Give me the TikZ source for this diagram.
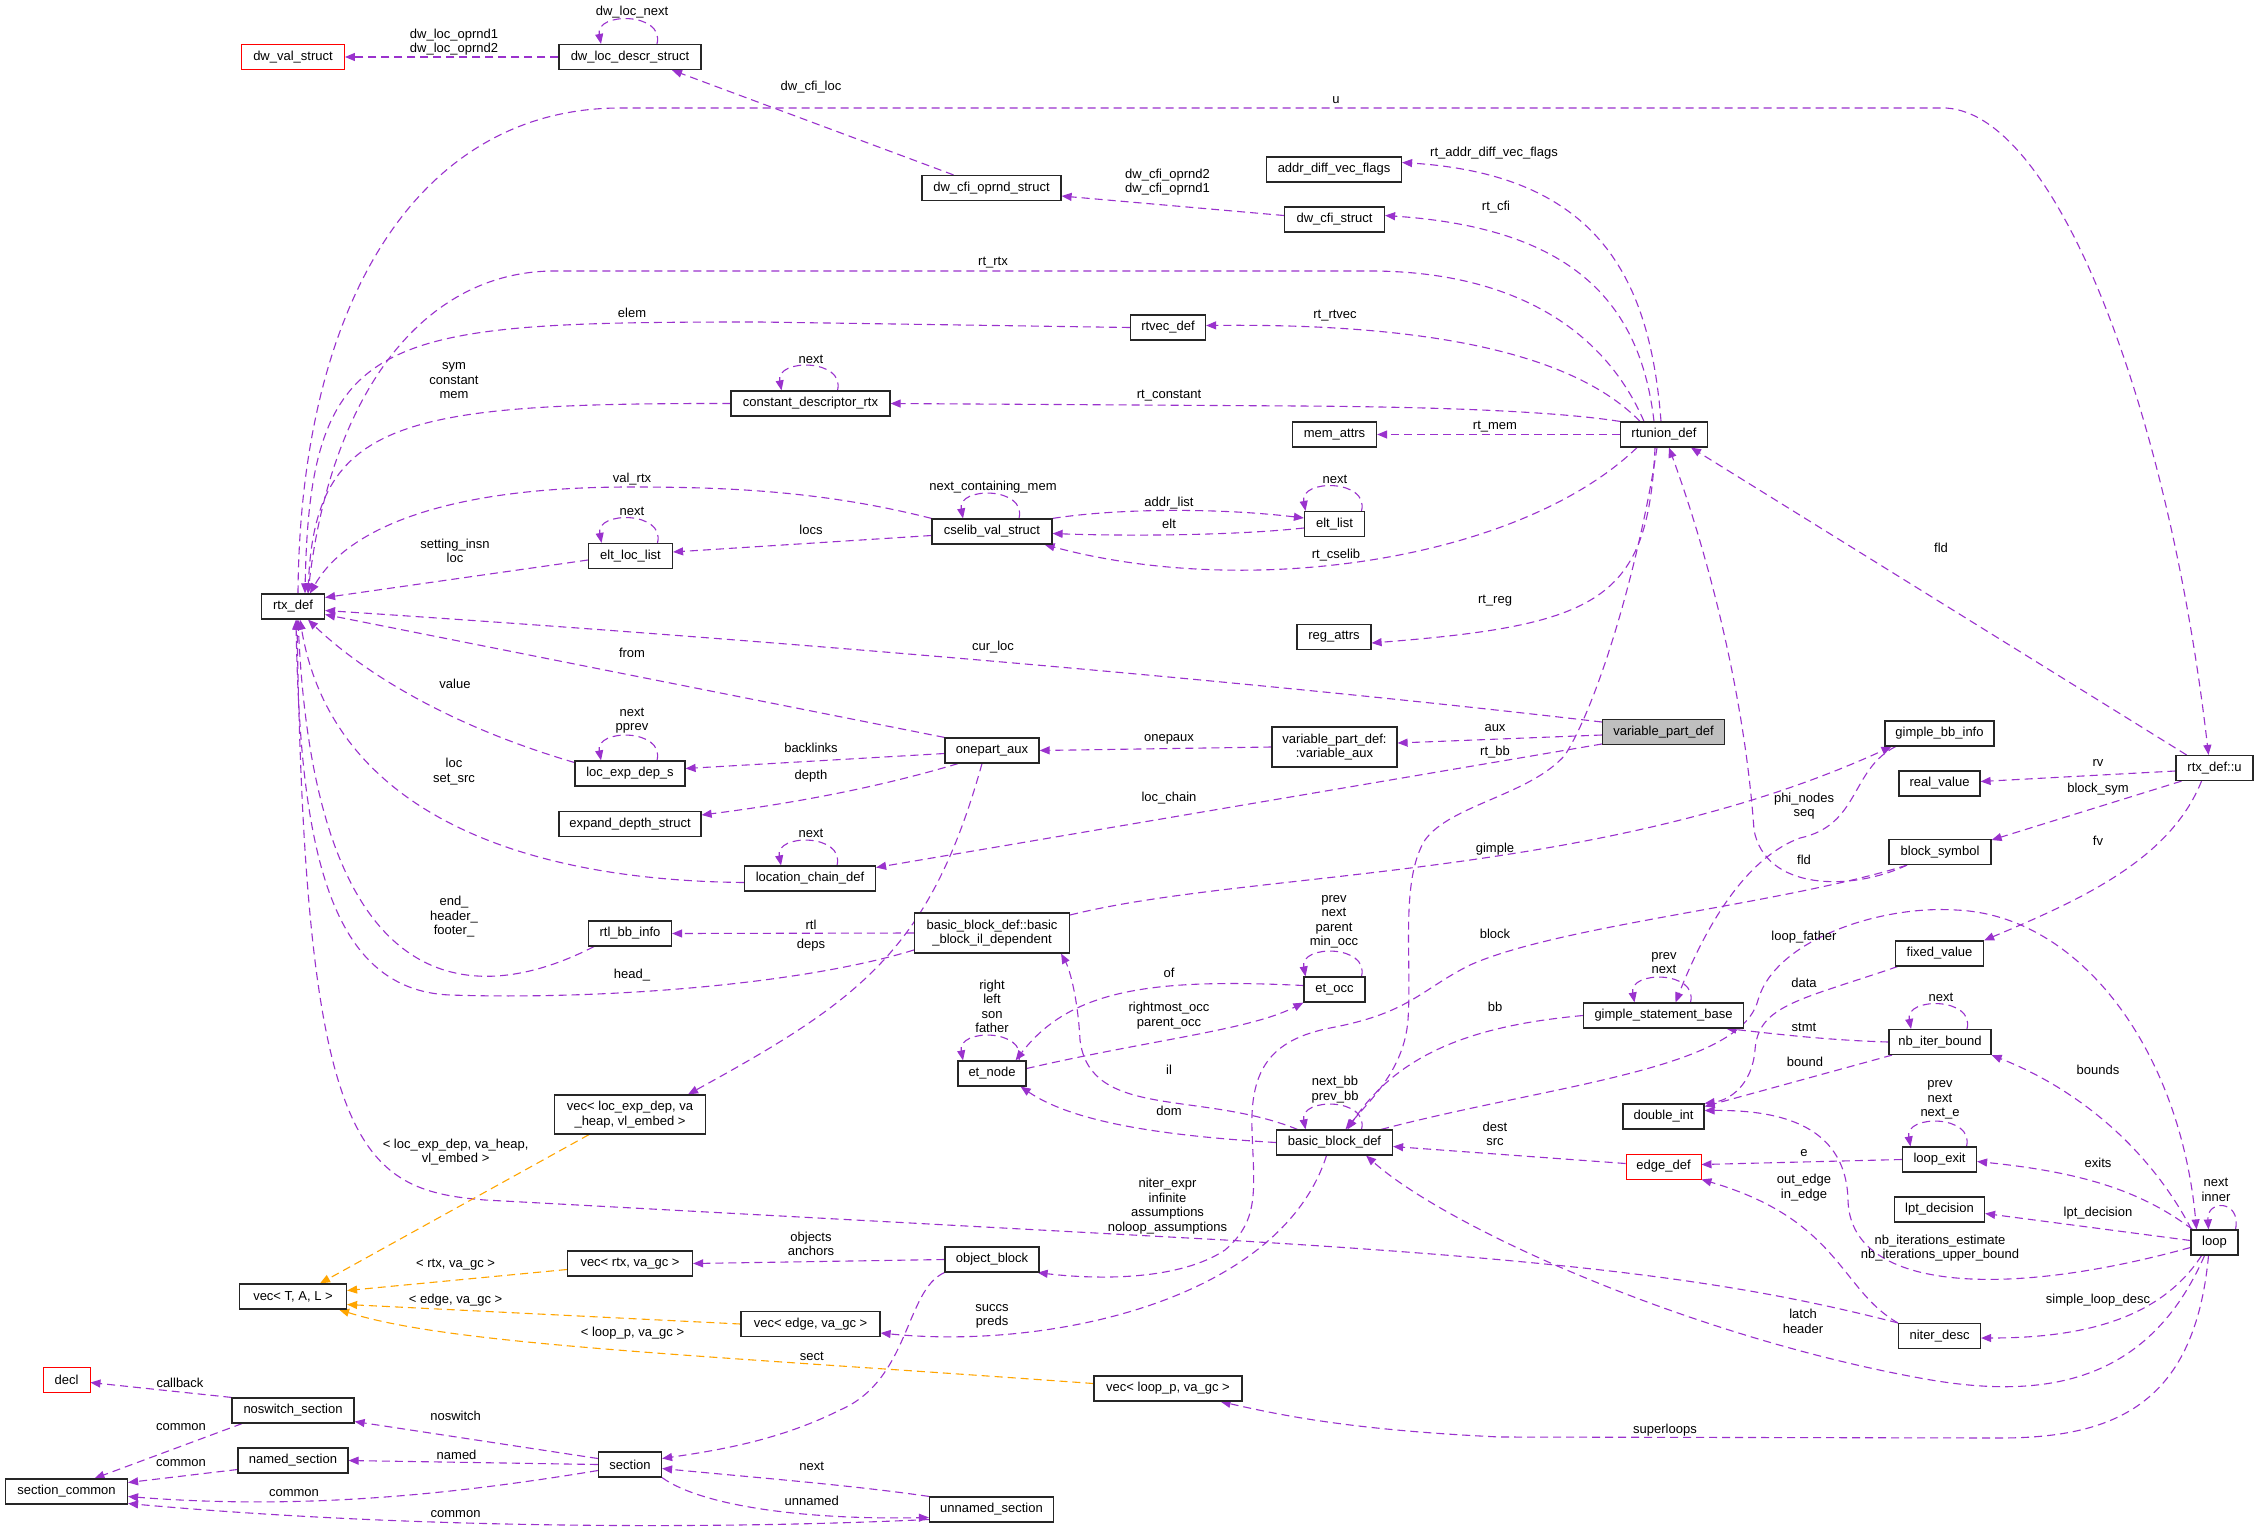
\documentclass[tikz,border=0pt]{standalone}
\usepackage{fontspec}
\setmainfont{Liberation Sans}
\usetikzlibrary{arrows.meta}
\pgfdeclarelayer{bg}
\pgfsetlayers{bg,main}
\definecolor{edgep}{HTML}{9A32CD}
\definecolor{edgeo}{HTML}{FFA500}
\tikzset{
  box/.style={draw=black!85, line width=1.2pt, fill=white, minimum height=25pt, inner xsep=2pt, inner ysep=0pt,
    font=\fontsize{13}{14.5}\selectfont, align=center},
  rbox/.style={box, draw=red, line width=0.9pt},
  lab/.style={font=\fontsize{13}{14.5}\selectfont, align=center, inner sep=0pt},
  pe/.style={draw=edgep, line width=1.1pt, dash pattern=on 8pt off 5pt, -{Triangle[length=10pt,width=8pt]}},
  po/.style={pe, draw=edgeo}
}
\newcommand{\selfloop}[1]{\draw[pe] ([xshift=27pt]#1.north) .. controls +(8,-32) and +(-6,-32) .. ([xshift=-29pt]#1.north);}
\begin{document}
\begin{tikzpicture}[x=1pt,y=-1pt]
\useasboundingbox (0,0) rectangle (2259,1539);
% ---------------- nodes
\node[rbox,minimum width=103] (dwval) at (293,57) {dw\_val\_struct};
\node[box,minimum width=142] (dwloc) at (630,57) {dw\_loc\_descr\_struct};
\node[box,minimum width=139] (dwcfiop) at (991.5,188) {dw\_cfi\_oprnd\_struct};
\node[box,minimum width=135] (addrdiff) at (1334,169.5) {addr\_diff\_vec\_flags};
\node[box,minimum width=100] (dwcfi) at (1334.5,219.5) {dw\_cfi\_struct};
\node[box,minimum width=75] (rtvec) at (1168,327.5) {rtvec\_def};
\node[box,minimum width=159] (cdr) at (810.5,403.5) {constant\_descriptor\_rtx};
\node[box,minimum width=84] (memattrs) at (1334.5,434.5) {mem\_attrs};
\node[box,minimum width=87] (rtunion) at (1664,434.5) {rtunion\_def};
\node[box,minimum width=60] (eltlist) at (1334.5,524) {elt\_list};
\node[box,minimum width=120] (cselib) at (992,531.5) {cselib\_val\_struct};
\node[box,minimum width=63] (rtx) at (293,606.5) {rtx\_def};
\node[box,minimum width=84] (eltloc) at (630.5,556) {elt\_loc\_list};
\node[box,minimum width=74] (regattrs) at (1334,637) {reg\_attrs};
\node[box,minimum width=110] (locexp) at (630,773.5) {loc\_exp\_dep\_s};
\node[box,minimum width=142] (expand) at (630,824) {expand\_depth\_struct};
\node[box,minimum width=94] (onepart) at (992,750.5) {onepart\_aux};
\node[box,minimum width=125,minimum height=40] (varaux) at (1334.5,747) {variable\_part\_def:\\:variable\_aux};
\node[box,minimum width=122,fill=gray!50] (varpart) at (1663.5,732) {variable\_part\_def};
\node[box,minimum width=109] (gbbinfo) at (1939.5,733.5) {gimple\_bb\_info};
\node[box,minimum width=81] (realval) at (1939.5,783.5) {real\_value};
\node[box,minimum width=77] (rtxu) at (2214.5,768) {rtx\_def::u};
\node[box,minimum width=131] (lcd) at (810,878.5) {location\_chain\_def};
\node[box,minimum width=102] (blocksym) at (1940,852) {block\_symbol};
\node[box,minimum width=83] (rtlbb) at (630,933.5) {rtl\_bb\_info};
\node[box,minimum width=155,minimum height=40] (bbil) at (992,933) {basic\_block\_def::basic\\\_block\_il\_dependent};
\node[box,minimum width=88] (fixedval) at (1939.5,953.5) {fixed\_value};
\node[box,minimum width=61] (etocc) at (1334.5,989.5) {et\_occ};
\node[box,minimum width=160] (gsb) at (1663.5,1015.5) {gimple\_statement\_base};
\node[box,minimum width=102] (nbiter) at (1940,1042) {nb\_iter\_bound};
\node[box,minimum width=68] (etnode) at (992,1073.5) {et\_node};
\node[box,minimum width=151,minimum height=39] (vecled) at (630,1114.5) {vec< loc\_exp\_dep, va\\\_heap, vl\_embed >};
\node[box,minimum width=81] (dblint) at (1663.5,1116.5) {double\_int};
\node[box,minimum width=116] (bbdef) at (1334.5,1142.5) {basic\_block\_def};
\node[rbox,minimum width=75] (edgedef) at (1663.5,1166.5) {edge\_def};
\node[box,minimum width=74] (loopexit) at (1939.5,1159.5) {loop\_exit};
\node[box,minimum width=90] (lpt) at (1939.5,1209.5) {lpt\_decision};
\node[box,minimum width=47] (lp) at (2214.5,1242.5) {loop};
\node[box,minimum width=94] (objblock) at (992,1259.5) {object\_block};
\node[box,minimum width=125] (vecrtx) at (630,1263.5) {vec< rtx, va\_gc >};
\node[box,minimum width=107] (vectal) at (293,1296.5) {vec< T, A, L >};
\node[box,minimum width=139] (vecedge) at (810.5,1324) {vec< edge, va\_gc >};
\node[box,minimum width=82] (niter) at (1939.5,1336) {niter\_desc};
\node[rbox,minimum width=47] (decl) at (66.5,1379.5) {decl};
\node[box,minimum width=148] (veclp) at (1168,1388.5) {vec< loop\_p, va\_gc >};
\node[box,minimum width=122] (noswitch) at (293,1410.5) {noswitch\_section};
\node[box,minimum width=110] (named) at (293,1460.5) {named\_section};
\node[box,minimum width=63] (sec) at (630,1464.5) {section};
\node[box,minimum width=122] (seccommon) at (66.5,1491.5) {section\_common};
\node[box,minimum width=124] (unnamed) at (991.5,1509.5) {unnamed\_section};
% ---------------- edges
\begin{pgfonlayer}{bg}
\fill[white] (0,0) rectangle (2259,1539);
\draw[pe] (dwloc.west) -- (dwval.east);
\selfloop{dwloc}
\draw[pe] ([xshift=-38pt]dwcfiop.north) -- ([xshift=42pt]dwloc.south);
\draw[pe] ([xshift=5pt]rtx.north) .. controls (300,300) and (420,108) .. (620,108) -- (1946,108) .. controls (2060,115) and (2170,420) .. ([xshift=-6pt]rtxu.north);
\draw[pe] ([yshift=4pt]dwcfi.west) -- ([yshift=-8pt]dwcfiop.east);
\draw[pe] ([xshift=-3pt]rtunion.north) .. controls (1650,280) and (1600,175) .. ([yshift=7pt]addrdiff.east);
\draw[pe] ([xshift=-10pt]rtunion.north) .. controls (1640,300) and (1570,228) .. ([yshift=4pt]dwcfi.east);
\draw[pe] ([xshift=-20pt]rtunion.north) .. controls (1600,320) and (1500,271) .. (1370,271) -- (560,271) .. controls (420,268) and (330,400) .. ([xshift=15pt]rtx.north);
\draw[pe] (rtvec.west) -- (760,322) .. controls (380,322) and (310,330) .. ([xshift=12pt]rtx.north);
\draw[pe] ([xshift=-24pt]rtunion.north) .. controls (1580,360) and (1450,323) .. ([yshift=2pt]rtvec.east);
\draw[pe] (cdr.west) .. controls (400,403) and (315,420) .. ([xshift=15pt]rtx.north);
\selfloop{cdr}
\draw[pe] (rtunion.north west) .. controls (1560,412) and (1450,407) .. (1300,406) -- (cdr.east);
\draw[pe] (rtunion.west) -- (memattrs.east);
\draw[pe] (cselib.north west) .. controls (820,490) and (720,487) .. (630,487) .. controls (420,487) and (340,540) .. ([xshift=17pt]rtx.north);
\selfloop{cselib}
\selfloop{eltlist}
\draw[pe] (cselib.north east) .. controls (1120,508) and (1220,508) .. ([yshift=6pt]eltlist.west);
\draw[pe] ([yshift=-4pt]eltlist.west) .. controls (1230,536) and (1120,536) .. ([yshift=-2pt]cselib.east);
\draw[pe] ([yshift=-4pt]eltloc.west) -- ([yshift=9pt]rtx.east);
\selfloop{eltloc}
\draw[pe] ([yshift=-4pt]cselib.west) -- ([yshift=4pt]eltloc.east);
\draw[pe] ([xshift=-27pt]rtunion.south) .. controls (1520,560) and (1250,600) .. ([xshift=-8pt]cselib.south east);
\draw[pe] ([xshift=-9pt]rtunion.south) .. controls (1648,600) and (1600,625) .. ([yshift=-6pt]regattrs.east);
\draw[pe] ([yshift=10pt]varpart.west) .. controls (1200,675) and (700,635) .. ([yshift=-4pt]rtx.east);
\draw[pe] (onepart.north west) -- ([yshift=-8pt]rtx.east);
\draw[pe] ([yshift=11pt]locexp.west) .. controls (430,720) and (350,660) .. ([xshift=15pt]rtx.south);
\selfloop{locexp}
\draw[pe] ([yshift=-3pt]onepart.west) -- ([yshift=5pt]locexp.east);
\draw[pe] ([xshift=-34pt]onepart.south) .. controls (870,790) and (780,805) .. ([yshift=9pt]expand.east);
\draw[pe] (varaux.west) -- (onepart.east);
\draw[pe] ([yshift=-3pt]varpart.west) -- ([yshift=4pt]varaux.east);
\draw[pe] ([yshift=-12pt]varpart.west) -- ([yshift=11pt]lcd.east);
\draw[pe] ([xshift=-7pt]rtunion.south) .. controls (1640,560) and (1600,700) .. (1565,755) .. controls (1530,795) and (1450,805) .. (1425,840) .. controls (1400,880) and (1412,960) .. (1408,1020) .. controls (1404,1070) and (1370,1100) .. ([xshift=11pt]bbdef.north);
\draw[pe] ([yshift=-4pt]lcd.west) .. controls (500,880) and (330,800) .. ([xshift=7pt]rtx.south);
\selfloop{lcd}
\draw[pe] ([xshift=-10pt]onepart.south) .. controls (930,950) and (860,1000) .. ([xshift=58pt]vecled.north);
\draw[pe] (bbil.west) -- (rtlbb.east);
\draw[pe] ([xshift=-36pt]rtlbb.south) .. controls (470,1010) and (315,1000) .. ([xshift=5pt]rtx.south);
\draw[pe] ([yshift=-17pt]bbil.west) .. controls (800,985) and (600,1000) .. (450,995) .. controls (330,990) and (300,850) .. ([xshift=3pt]rtx.south);
\draw[pe] ([yshift=18pt]bbil.east) .. controls (1250,870) and (1600,880) .. ([xshift=-48pt]gbbinfo.south);
\draw[pe] ([xshift=-44pt]gbbinfo.south) .. controls (1850,770) and (1860,825) .. (1800,838) .. controls (1740,860) and (1700,940) .. ([xshift=12pt]gsb.north);
\selfloop{gsb}
\draw[pe] (gsb.west) .. controls (1480,1025) and (1400,1050) .. ([xshift=13pt]bbdef.north);
\draw[pe] ([xshift=-33pt]blocksym.south) .. controls (1780,905) and (1560,925) .. (1470,965) .. controls (1420,990) and (1410,1013) .. (1330,1028) .. controls (1270,1040) and (1250,1070) .. (1252,1130) .. controls (1254,1190) and (1260,1220) .. (1225,1250) .. controls (1180,1280) and (1100,1280) .. ([xshift=-2pt]objblock.south east);
\draw[pe] ([xshift=-33pt]blocksym.south) .. controls (1850,892) and (1765,890) .. (1754,830) .. controls (1745,700) and (1710,560) .. ([xshift=5pt]rtunion.south);
\draw[pe] ([xshift=-28pt]rtxu.north) -- ([xshift=27pt]rtunion.south);
\draw[pe] ([yshift=-3pt]rtxu.west) -- ([yshift=2pt]realval.east);
\draw[pe] ([xshift=-33pt]rtxu.south) -- ([yshift=12pt]blocksym.east);
\draw[pe] ([xshift=-13pt]rtxu.south) .. controls (2170,860) and (2080,900) .. (fixedval.north east);
\draw[pe] ([xshift=-12pt]bbdef.north east) .. controls (1550,1085) and (1740,1070) .. (1758,1000) .. controls (1775,940) and (1880,905) .. (1956,910) .. controls (2080,915) and (2180,1050) .. ([xshift=-18pt]lp.north);
\draw[pe] ([xshift=-42pt]fixedval.south) .. controls (1800,1000) and (1758,1005) .. (1755,1050) .. controls (1752,1085) and (1730,1100) .. (dblint.north east);
\draw[pe] (nbiter.west) .. controls (1820,1040) and (1760,1032) .. ([xshift=-18pt]gsb.south east);
\draw[pe] ([xshift=-48pt]nbiter.south) -- ([yshift=10pt]dblint.east);
\selfloop{nbiter}
\draw[pe] ([xshift=-23pt]lp.north) .. controls (2150,1150) and (2080,1090) .. (nbiter.south east);
\draw[pe] ([xshift=-22pt]lp.north) .. controls (2140,1190) and (2080,1172) .. ([yshift=-2pt]loopexit.east);
\draw[pe] ([xshift=21pt]lp.north) .. controls +(6,-30) and +(-2,-30) .. ([xshift=-6pt]lp.north);
\draw[pe] ([yshift=2pt]lp.west) -- ([yshift=-4pt]lpt.east);
\draw[pe] ([yshift=-5pt]lp.west) .. controls (2000,1300) and (1850,1290) .. (1848,1200) .. controls (1846,1120) and (1770,1110) .. ([yshift=6pt]dblint.east);
\draw[pe] (loopexit.west) -- ([yshift=2pt]edgedef.east);
\selfloop{loopexit}
\draw[pe] (niter.north west) .. controls (1840,1290) and (1840,1220) .. (edgedef.south east);
\draw[pe] ([xshift=-13pt]lp.south) .. controls (2160,1320) and (2080,1338) .. ([yshift=-2pt]niter.east);
\draw[pe] ([xshift=-10pt]lp.south) .. controls (2150,1380) and (2050,1400) .. (1931,1380) .. controls (1700,1340) and (1450,1230) .. ([xshift=-27pt]bbdef.south east);
\draw[pe] ([xshift=-6pt]lp.south) .. controls (2195,1400) and (2120,1438) .. (2000,1438) -- (1500,1437) .. controls (1350,1430) and (1280,1415) .. ([xshift=-22pt]veclp.south east);
\draw[pe] (niter.north west) .. controls (1750,1285) and (1600,1262) .. (1225,1240) -- (485,1200) .. controls (360,1190) and (305,1150) .. ([xshift=4pt]rtx.south);
\draw[pe] (bbdef.west) .. controls (1150,1135) and (1070,1120) .. ([xshift=-6pt]etnode.south east);
\draw[pe] ([xshift=-37pt]bbdef.north) .. controls (1200,1090) and (1090,1120) .. (1080,1040) .. controls (1078,1000) and (1070,970) .. ([xshift=-9pt]bbil.south east);
\selfloop{bbdef}
\draw[pe] ([yshift=4pt]etocc.west) .. controls (1150,978) and (1070,990) .. ([xshift=-11pt]etnode.north east);
\draw[pe] ([yshift=5pt]etnode.east) .. controls (1150,1040) and (1250,1030) .. (etocc.south west);
\selfloop{etocc}
\selfloop{etnode}
\draw[pe] (objblock.west) -- (vecrtx.east);
\draw[pe] (objblock.south west) .. controls (905,1290) and (910,1380) .. (840,1410) .. controls (780,1440) and (720,1450) .. ([yshift=6pt]sec.east);
\draw[pe] ([xshift=-8pt]bbdef.south) .. controls (1280,1300) and (1050,1350) .. ([yshift=-9pt]vecedge.east);
\draw[po] (vecedge.west) -- ([yshift=-8pt]vectal.east);
\draw[po] ([yshift=-6pt]vecrtx.west) -- ([yshift=6pt]vectal.east);
\draw[po] ([xshift=-41pt]vecled.south) -- ([xshift=27pt]vectal.north);
\draw[po] ([yshift=5pt]veclp.west) .. controls (700,1355) and (450,1345) .. ([xshift=-8pt]vectal.south east);
\draw[pe] ([yshift=6pt]sec.west) -- ([yshift=-11pt]noswitch.east);
\draw[pe] (sec.west) -- (named.east);
\draw[pe] ([yshift=-6pt]sec.west) .. controls (450,1495) and (300,1510) .. ([yshift=-5pt]seccommon.east);
\draw[pe] (noswitch.north west) -- ([yshift=-3pt]decl.east);
\draw[pe] ([xshift=-51pt]noswitch.south) -- ([xshift=28pt]seccommon.north);
\draw[pe] ([yshift=-9pt]named.west) -- ([yshift=9pt]seccommon.east);
\draw[pe] ([yshift=-10pt]unnamed.west) .. controls (700,1530) and (400,1528) .. ([yshift=-12pt]seccommon.east);
\draw[pe] (unnamed.north west) .. controls (850,1485) and (760,1478) .. ([yshift=-4pt]sec.east);
\draw[pe] (sec.south east) .. controls (700,1505) and (800,1520) .. ([yshift=-8pt]unnamed.west);
\draw[pe] ([yshift=3pt]edgedef.west) -- ([yshift=-4pt]bbdef.east);
\end{pgfonlayer}
% ---------------- labels
\node[lab] (l1) at (454,42) {dw\_loc\_oprnd1\\dw\_loc\_oprnd2};
\node[lab] (l2) at (632,12) {dw\_loc\_next};
\node[lab] (l3) at (811,87) {dw\_cfi\_loc};
\node[lab] (l4) at (1336,100) {u};
\node[lab] (l5) at (1167.5,182) {dw\_cfi\_oprnd2\\dw\_cfi\_oprnd1};
\node[lab] (l6) at (1494,153) {rt\_addr\_diff\_vec\_flags};
\node[lab] (l7) at (1496,207) {rt\_cfi};
\node[lab] (l8) at (993,263) {rt\_rtx};
\node[lab] (l9) at (632,313) {elem};
\node[lab] (l10) at (1335,316) {rt\_rtvec};
\node[lab] (l11) at (454,381) {sym\\constant\\mem};
\node[lab] (l12) at (811,359) {next};
\node[lab] (l13) at (1169,396) {rt\_constant};
\node[lab] (l14) at (1495,427) {rt\_mem};
\node[lab] (l15) at (632,479) {val\_rtx};
\node[lab] (l16) at (993,487) {next\_containing\_mem};
\node[lab] (l17) at (1335,479) {next};
\node[lab] (l18) at (1169,503) {addr\_list};
\node[lab] (l19) at (1169,524) {elt};
\node[lab] (l20) at (632,511) {next};
\node[lab] (l21) at (455,551) {setting\_insn\\loc};
\node[lab] (l22) at (811,530) {locs};
\node[lab] (l23) at (1336,555) {rt\_cselib};
\node[lab] (l24) at (1495,601) {rt\_reg};
\node[lab] (l25) at (993,647) {cur\_loc};
\node[lab] (l26) at (632,653) {from};
\node[lab] (l27) at (455,684) {value};
\node[lab] (l28) at (632,720.5) {next\\pprev};
\node[lab] (l29) at (811,748) {backlinks};
\node[lab] (l30) at (811,776) {depth};
\node[lab] (l31) at (1169,739) {onepaux};
\node[lab] (l32) at (1495,728) {aux};
\node[lab] (l33) at (1495,752) {rt\_bb};
\node[lab] (l34) at (1169,798) {loc\_chain};
\node[lab] (l35) at (454,771.5) {loc\\set\_src};
\node[lab] (l36) at (811,833) {next};
\node[lab] (l37) at (1495,849) {gimple};
\node[lab] (l38) at (811,925) {rtl};
\node[lab] (l39) at (811,945) {deps};
\node[lab] (l40) at (454,917) {end\_\\header\_\\footer\_};
\node[lab] (l41) at (632,975) {head\_};
\node[lab] (l42) at (1334,922) {prev\\next\\parent\\min\_occ};
\node[lab] (l43) at (1495,934) {block};
\node[lab] (l44) at (1169,973) {of};
\node[lab] (l45) at (992,1006.5) {right\\left\\son\\father};
\node[lab] (l46) at (1169,1015.5) {rightmost\_occ\\parent\_occ};
\node[lab] (l47) at (1495,1007) {bb};
\node[lab] (l48) at (1941,548) {fld};
\node[lab] (l49) at (1804,806) {phi\_nodes\\seq};
\node[lab] (l50) at (2098,763) {rv};
\node[lab] (l51) at (2098,789) {block\_sym};
\node[lab] (l52) at (2098,841) {fv};
\node[lab] (l53) at (1804,860) {fld};
\node[lab] (l54) at (1804,937) {loop\_father};
\node[lab] (l55) at (1664,963) {prev\\next};
\node[lab] (l56) at (1804,983) {data};
\node[lab] (l57) at (1941,997) {next};
\node[lab] (l58) at (1804,1027) {stmt};
\node[lab] (l59) at (1805,1062) {bound};
\node[lab] (l60) at (2098,1070) {bounds};
\node[lab] (l61) at (1940,1100) {prev\\next\\next\_e};
\node[lab] (l62) at (1804,1153) {e};
\node[lab] (l63) at (1804,1187.5) {out\_edge\\in\_edge};
\node[lab] (l64) at (2098,1163) {exits};
\node[lab] (l65) at (2216,1190) {next\\inner};
\node[lab] (l66) at (2098,1213) {lpt\_decision};
\node[lab] (l67) at (1940,1248) {nb\_iterations\_estimate\\nb\_iterations\_upper\_bound};
\node[lab] (l68) at (2098,1300) {simple\_loop\_desc};
\node[lab] (l69) at (1803,1321.5) {latch\\header};
\node[lab] (l70) at (1665,1430) {superloops};
\node[lab] (l71) at (1495,1134) {dest\\src};
\node[lab] (l72) at (1169,1070) {il};
\node[lab] (l73) at (1335,1089.5) {next\_bb\\prev\_bb};
\node[lab] (l74) at (1169,1111) {dom};
\node[lab] (l75) at (1167.5,1206) {niter\_expr\\infinite\\assumptions\\noloop\_assumptions};
\node[lab] (l76) at (811,1244) {objects\\anchors};
\node[lab] (l77) at (992,1316.5) {succs\\preds};
\node[lab] (l78) at (811.7,1356) {sect};
\node[lab] (l79) at (811.7,1466) {next};
\node[lab] (l80) at (811.7,1501) {unnamed};
\node[lab] (l81) at (455.6,1152) {< loc\_exp\_dep, va\_heap,\\vl\_embed >};
\node[lab] (l82) at (455.6,1265) {< rtx, va\_gc >};
\node[lab] (l83) at (455.6,1300) {< edge, va\_gc >};
\node[lab] (l84) at (632.5,1333) {< loop\_p, va\_gc >};
\node[lab] (l85) at (180,1383) {callback};
\node[lab] (l86) at (181,1427) {common};
\node[lab] (l87) at (455.6,1416) {noswitch};
\node[lab] (l88) at (181,1463) {common};
\node[lab] (l89) at (456.6,1455) {named};
\node[lab] (l90) at (294,1493) {common};
\node[lab] (l91) at (455.6,1514) {common};
\end{tikzpicture}
\end{document}
